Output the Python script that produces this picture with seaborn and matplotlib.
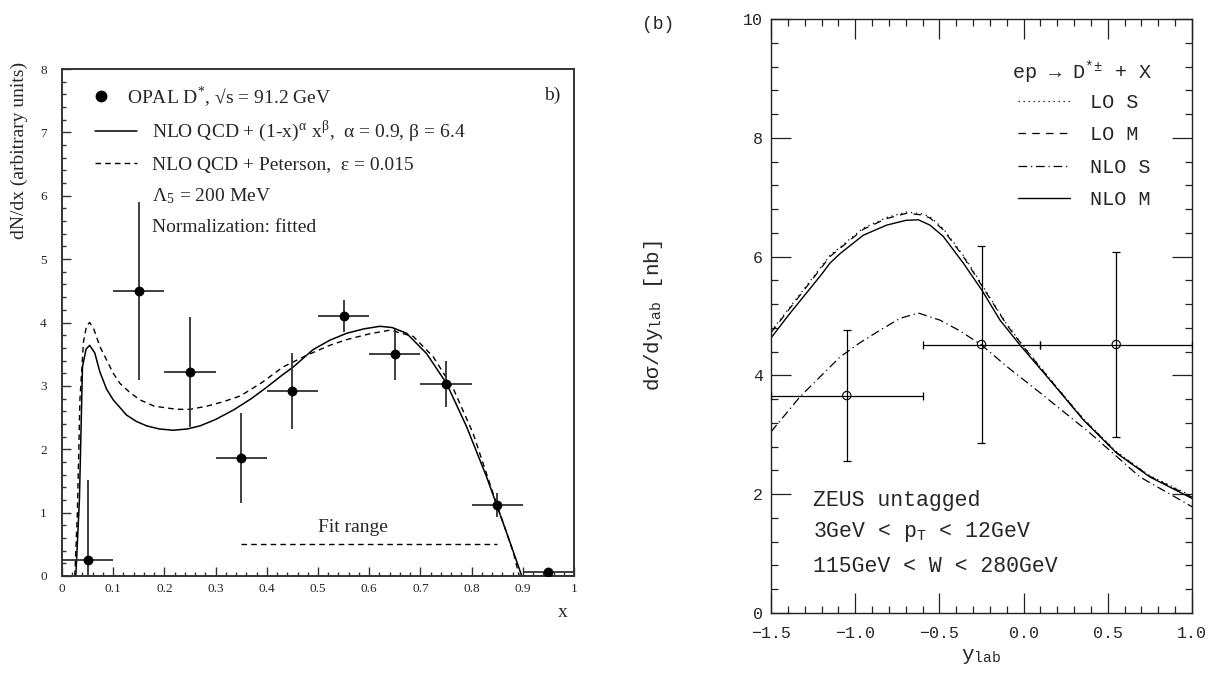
import matplotlib
matplotlib.use("Agg")
import matplotlib.pyplot as plt
import seaborn as sns
from matplotlib.lines import Line2D
from matplotlib.ticker import MultipleLocator, FuncFormatter

# ---------------- data: left panel (OPAL D*) ----------------
opal_x = [0.05, 0.15, 0.25, 0.35, 0.45, 0.55, 0.65, 0.75, 0.85, 0.95]
opal_y = [0.26, 4.50, 3.22, 1.86, 2.92, 4.10, 3.50, 3.03, 1.12, 0.06]
opal_yerr = [1.25, 1.40, 0.87, 0.71, 0.60, 0.25, 0.40, 0.36, 0.19, 0.0]
opal_xerr = [0.05] * 10

nlo_beta_x = [0.025, 0.027, 0.034, 0.040, 0.047, 0.054, 0.064, 0.074, 0.087, 0.100,
              0.126, 0.145, 0.165, 0.19, 0.217, 0.245, 0.27, 0.30, 0.335, 0.37,
              0.40, 0.43, 0.452, 0.49, 0.523, 0.556, 0.59, 0.621, 0.645, 0.673,
              0.712, 0.751, 0.790, 0.829, 0.869, 0.898, 1.0]
nlo_beta_y = [0.0, 0.0, 1.2, 3.3, 3.58, 3.64, 3.52, 3.22, 2.95, 2.78,
              2.54, 2.44, 2.37, 2.32, 2.30, 2.32, 2.37, 2.47, 2.62, 2.80,
              2.98, 3.17, 3.30, 3.57, 3.72, 3.83, 3.90, 3.94, 3.92, 3.83,
              3.51, 3.04, 2.36, 1.57, 0.67, 0.0, 0.0]

peterson_x = [0.025, 0.030, 0.035, 0.042, 0.048, 0.054, 0.062, 0.074, 0.087, 0.100,
              0.113, 0.132, 0.152, 0.18, 0.224, 0.25, 0.283, 0.315, 0.348, 0.39,
              0.432, 0.48, 0.523, 0.556, 0.60, 0.641, 0.686, 0.725, 0.764, 0.803,
              0.842, 0.882, 0.893]
peterson_y = [0.0, 1.0, 2.78, 3.70, 3.95, 4.00, 3.90, 3.62, 3.41, 3.20,
              3.04, 2.90, 2.78, 2.68, 2.63, 2.63, 2.68, 2.75, 2.84, 3.05,
              3.30, 3.49, 3.64, 3.73, 3.82, 3.88, 3.78, 3.46, 2.96, 2.25,
              1.30, 0.36, 0.0]

fit_range_x = [0.35, 0.85]
fit_range_y = [0.5, 0.5]

# ---------------- data: right panel (ZEUS) ----------------
zeus_x = [-1.05, -0.25, 0.55]
zeus_y = [3.66, 4.52, 4.52]
zeus_xerr = [0.45, 0.35, 0.45]
zeus_yerr = [1.10, 1.66, 1.55]

nlo_m_x = [-1.5, -1.4, -1.3, -1.2, -1.15, -1.09, -0.952, -0.813, -0.70, -0.625,
           -0.556, -0.477, -0.358, -0.249, -0.14, -0.021, 0.157, 0.355, 0.553, 0.75, 1.0]
nlo_m_y = [4.63, 5.0, 5.35, 5.70, 5.89, 6.05, 6.36, 6.53, 6.61, 6.62,
           6.53, 6.34, 5.89, 5.44, 4.93, 4.51, 3.92, 3.25, 2.69, 2.29, 1.93]

lo_m_x = [-1.5, -1.3, -1.15, -0.952, -0.813, -0.694, -0.60, -0.556, -0.477, -0.358,
          -0.219, -0.10, 0.0, 0.157, 0.355, 0.553, 0.75, 1.0]
lo_m_y = [4.72, 5.45, 6.00, 6.46, 6.64, 6.73, 6.70, 6.65, 6.45, 6.00,
          5.38, 4.85, 4.48, 3.93, 3.26, 2.70, 2.30, 1.95]
lo_s_x = lo_m_x
lo_s_y = [4.74, 5.47, 6.02, 6.48, 6.66, 6.75, 6.72, 6.67, 6.47, 6.02,
          5.40, 4.86, 4.49, 3.94, 3.27, 2.71, 2.31, 1.97]

nlo_s_x = [-1.5, -1.328, -1.09, -0.972, -0.853, -0.734, -0.625, -0.496, -0.378, -0.249,
           -0.10, 0.097, 0.394, 0.691, 1.0]
nlo_s_y = [3.05, 3.64, 4.31, 4.55, 4.76, 4.96, 5.05, 4.93, 4.75, 4.51,
           4.15, 3.71, 3.03, 2.29, 1.79]

right_legend_labels = ["LO S", "LO M", "NLO S", "NLO M"]

# ---------------- style ----------------
sns.set_theme(style="ticks")
SERIF = ["Liberation Serif", "DejaVu Serif"]
MONO = ["Liberation Mono", "DejaVu Sans Mono"]
plt.rcParams["font.family"] = SERIF
plt.rcParams["mathtext.fontset"] = "stix"
plt.rcParams["axes.unicode_minus"] = True

spine_col = "#333333"
fig = plt.figure(figsize=(12.1, 6.73), dpi=100)
fig.patch.set_facecolor("white")

# =============== LEFT PANEL ===============
ax1 = fig.add_axes([62 / 1210, 97 / 673, 512 / 1210, 507 / 673])
ax1.set_facecolor("white")

sns.lineplot(x=nlo_beta_x, y=nlo_beta_y, ax=ax1, color="black", lw=1.1,
             sort=False, estimator=None)
sns.lineplot(x=peterson_x, y=peterson_y, ax=ax1, color="black", lw=1.0,
             linestyle=(0, (4, 3)), sort=False, estimator=None)
sns.lineplot(x=fit_range_x, y=fit_range_y, ax=ax1, color="black", lw=1.0,
             linestyle=(0, (4, 3)), sort=False, estimator=None)
ax1.errorbar(opal_x, opal_y, xerr=opal_xerr, yerr=opal_yerr, fmt="none",
             ecolor="#303030", elinewidth=1.3, zorder=3)
sns.scatterplot(x=opal_x, y=opal_y, ax=ax1, color="black", s=50,
                edgecolor="black", linewidth=0, zorder=4)

ax1.set_xlim(0, 1)
ax1.set_ylim(0, 8)
ax1.xaxis.set_major_locator(MultipleLocator(0.1))
ax1.xaxis.set_minor_locator(MultipleLocator(0.02))
ax1.yaxis.set_major_locator(MultipleLocator(1))
ax1.yaxis.set_minor_locator(MultipleLocator(0.2))
ax1.xaxis.set_major_formatter(FuncFormatter(lambda v, p: f"{v:g}"))
ax1.yaxis.set_major_formatter(FuncFormatter(lambda v, p: f"{v:g}"))
ax1.tick_params(which="both", direction="in", top=False, right=False,
                color=spine_col, width=1.0)
ax1.tick_params(which="major", length=6.5, labelsize=9.5)
ax1.tick_params(which="minor", length=3.2)
ax1.tick_params(axis="y", which="major", pad=11)
ax1.tick_params(axis="x", which="major", pad=5)
for s in ax1.spines.values():
    s.set_color(spine_col)
    s.set_linewidth(1.4)

ax1.set_ylabel("dN/dx (arbitrary units)", fontsize=14)
ax1.yaxis.set_label_coords(-0.066, 0.84)
ax1.set_xlabel("x", fontsize=14)
ax1.xaxis.set_label_coords(0.977, -0.056)

prop_l = dict(family=SERIF, size=14)
h_opal = Line2D([], [], marker="o", color="black", ls="none", markersize=7.5)
leg1 = ax1.legend([h_opal], [r"OPAL D$^{\mathregular{*}}$, √s = 91.2 GeV"],
                  loc="upper left", bbox_to_anchor=(0.057, 0.971),
                  frameon=False, prop=prop_l, handlelength=1.0,
                  handletextpad=0.84, borderpad=0, borderaxespad=0)
ax1.add_artist(leg1)
h_solid = Line2D([], [], color="black", lw=1.1)
h_dash = Line2D([], [], color="black", lw=1.0, ls=(0, (4, 3)))
h_none = Line2D([], [], color="none")
labels2 = [r"NLO QCD + (1-x)$^{\mathregular{α}}$ x$^{\mathregular{β}}$,  α = 0.9, β = 6.4",
           "NLO QCD + Peterson,  ε = 0.015",
           r"Λ$_{\mathregular{5}}$ = 200 MeV",
           "Normalization: fitted"]
ax1.legend([h_solid, h_dash, h_none, h_none], labels2,
           loc="upper left", bbox_to_anchor=(0.0645, 0.901),
           frameon=False, prop=prop_l, handlelength=2.16,
           handletextpad=0.77, labelspacing=0.62, borderpad=0, borderaxespad=0)

ax1.text(0.958, 7.59, "b)", fontsize=14, ha="center", va="center")
ax1.text(0.568, 0.77, "Fit range", fontsize=14, ha="center", va="center")

# =============== RIGHT PANEL ===============
ax2 = fig.add_axes([771 / 1210, 60 / 673, 421 / 1210, 594 / 673])
ax2.set_facecolor("white")

sns.lineplot(x=lo_s_x, y=lo_s_y, ax=ax2, color="black", lw=0.9,
             linestyle=(0, (1, 3)), sort=False, estimator=None)
sns.lineplot(x=lo_m_x, y=lo_m_y, ax=ax2, color="black", lw=0.9,
             linestyle=(0, (6, 5)), sort=False, estimator=None)
sns.lineplot(x=nlo_s_x, y=nlo_s_y, ax=ax2, color="black", lw=0.9,
             linestyle=(0, (7, 3, 1, 3)), sort=False, estimator=None)
sns.lineplot(x=nlo_m_x, y=nlo_m_y, ax=ax2, color="black", lw=1.0,
             sort=False, estimator=None)
ax2.errorbar(zeus_x, zeus_y, xerr=zeus_xerr, yerr=zeus_yerr, fmt="none",
             ecolor="black", elinewidth=0.9, capsize=3, capthick=0.9, zorder=3)
sns.scatterplot(x=zeus_x, y=zeus_y, ax=ax2, s=36, facecolor="none",
                edgecolor="black", linewidth=0.8, zorder=4)

ax2.set_xlim(-1.5, 1.0)
ax2.set_ylim(0, 10)
ax2.xaxis.set_major_locator(MultipleLocator(0.5))
ax2.xaxis.set_minor_locator(MultipleLocator(0.1))
ax2.yaxis.set_major_locator(MultipleLocator(2))
ax2.yaxis.set_minor_locator(MultipleLocator(0.4))
ax2.xaxis.set_major_formatter(FuncFormatter(lambda v, p: f"{v:.1f}".replace("-", "\u2212")))
ax2.yaxis.set_major_formatter(FuncFormatter(lambda v, p: f"{v:g}"))
ax2.tick_params(which="both", direction="in", top=True, right=True,
                color="#222222", width=0.9)
ax2.tick_params(which="major", length=14.4, labelsize=12)
ax2.tick_params(which="minor", length=5)
ax2.tick_params(axis="y", which="major", pad=6)
ax2.tick_params(axis="x", which="major", pad=9)
for lab in ax2.get_xticklabels() + ax2.get_yticklabels():
    lab.set_family(MONO)
for s in ax2.spines.values():
    s.set_color("#222222")
    s.set_linewidth(1.0)

ax2.set_ylabel(r"dσ/dy$_{\mathregular{lab}}$ [nb]", fontsize=15, family=MONO)
ax2.yaxis.set_label_coords(-0.252, 0.5)
ax2.set_xlabel(r"y$_{\mathregular{lab}}$", fontsize=15, family=MONO)
ax2.xaxis.set_label_coords(0.5, -0.058)

prop_r = dict(family=MONO, size=14.5)
hr = [Line2D([], [], color="black", lw=0.9, ls=(0, (1, 3))),
      Line2D([], [], color="black", lw=0.9, ls=(0, (6, 5))),
      Line2D([], [], color="black", lw=0.9, ls=(0, (7, 3, 1, 3))),
      Line2D([], [], color="black", lw=1.0)]
ax2.legend(hr, right_legend_labels, loc="upper left",
           bbox_to_anchor=(0.587, 0.876), frameon=False, prop=prop_r,
           handlelength=2.6, handletextpad=0.96,
           labelspacing=0.67, borderpad=0, borderaxespad=0)
ax2.text(-0.069, 9.11, r"ep → D$^{\mathregular{*±}}$ + X", fontsize=14.5,
         family=MONO, ha="left", va="center")

ax2.text(-1.25, 1.90, "ZEUS untagged", fontsize=15.5, family=MONO, ha="left", va="center")
ax2.text(-1.25, 1.36, r"3GeV < $\mathregular{p_T}$ < 12GeV", fontsize=15.5, family=MONO,
         ha="left", va="center")
ax2.text(-1.25, 0.78, "115GeV < W < 280GeV", fontsize=15.5, family=MONO,
         ha="left", va="center")
ax2.text(-0.268, 0.99, "(b)", fontsize=13, family=MONO, ha="center", va="center",
         transform=ax2.transAxes)

fig.savefig("out.png", dpi=100, facecolor="white")
